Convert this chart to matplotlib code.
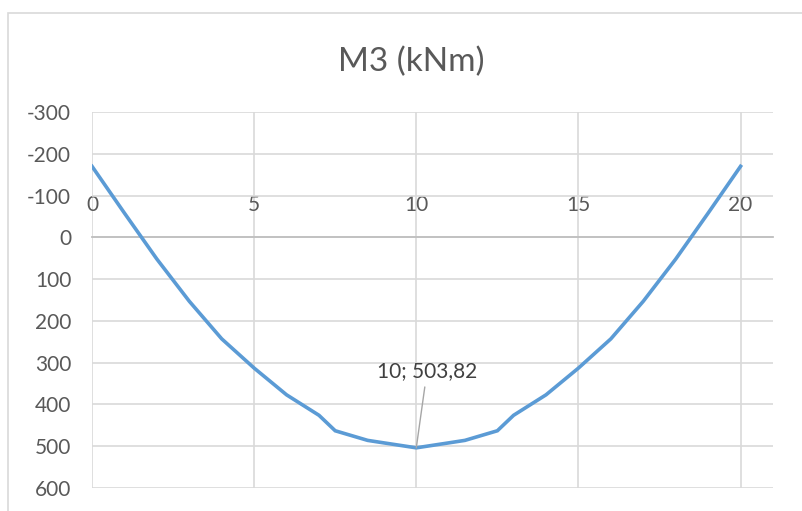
import matplotlib.pyplot as plt
from matplotlib.patches import Rectangle

# M3 moment diagram values
x_pos = [0, 1, 2, 3, 4, 5, 6, 7, 7.5, 8.5, 9, 10,
         11, 11.5, 12.5, 13, 14, 15, 16, 17, 18, 19, 20]
m3 = [-170, -58, 52, 153, 243, 313, 377, 426, 463, 486, 492, 503.82,
      492, 486, 463, 426, 377, 313, 243, 153, 52, -58, -170]
x_ticks = [0, 5, 10, 15, 20]
y_ticks = [-300, -200, -100, 0, 100, 200, 300, 400, 500, 600]

plt.rcParams['font.family'] = ['Lato', 'DejaVu Sans']
plt.rcParams['axes.unicode_minus'] = False
txt = '#595959'
grid = '#d9d9d9'

fig = plt.figure(figsize=(8.03, 5.11), dpi=100)
fig.patches.append(Rectangle((8 / 803, -0.1), 1.2, 1.1 - 13 / 511,
                             transform=fig.transFigure, fill=False,
                             edgecolor=grid, lw=1.2))

ax = fig.add_axes([92 / 803, 1 - 488 / 511, (773 - 92) / 803, (488 - 112) / 511])
ax.plot(x_pos, m3, color='#5b9bd5', lw=2.6, solid_joinstyle='miter', zorder=3)

ax.set_xlim(0, 21)
ax.set_ylim(600, -300)
ax.set_xticks(x_ticks)
ax.set_yticks(y_ticks)
ax.grid(True, color=grid, lw=1.2)
ax.set_axisbelow(True)

for s in ['left', 'right', 'bottom']:
    ax.spines[s].set_visible(False)
ax.spines['top'].set_position(('data', 0))
ax.spines['top'].set_color('#bfbfbf')
ax.spines['top'].set_linewidth(1.3)
ax.spines['top'].set_zorder(2)
ax.xaxis.set_ticks_position('top')
ax.tick_params(axis='x', length=0, pad=16, labelsize=15, labelcolor=txt)
ax.tick_params(axis='y', length=0, pad=15, labelsize=15, labelcolor=txt)

ax.annotate('10; 503,82', xy=(10, 503.82), xytext=(10.33, 321),
            ha='center', va='center', fontsize=15, color='#404040',
            arrowprops=dict(arrowstyle='-', color='#a6a6a6', lw=1,
                            shrinkA=2, shrinkB=0))

fig.text(411 / 803, 1 - 62 / 511, 'M3 (kNm)', ha='center', va='center',
         fontsize=24, color=txt)

fig.savefig('out.png', dpi=100)
